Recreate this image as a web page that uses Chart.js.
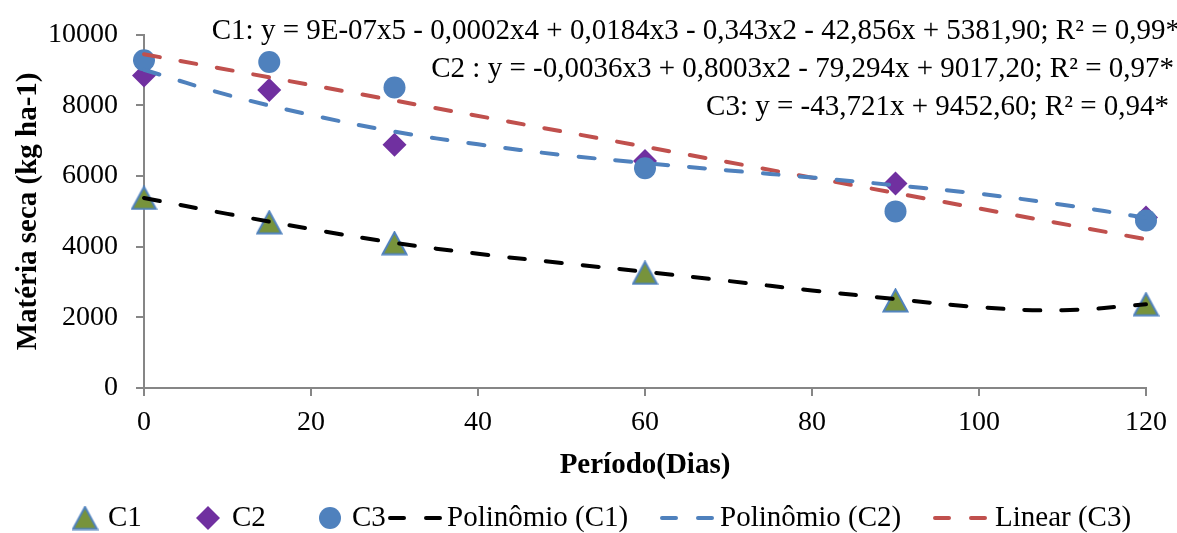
<!DOCTYPE html>
<html>
<head>
<meta charset="utf-8">
<script src="https://cdn.jsdelivr.net/npm/chart.js@4.4.1/dist/chart.umd.min.js"></script>
<style>
  html, body { margin: 0; padding: 0; background: #fff; }
  #wrap { position: relative; width: 1177px; height: 533px; }
</style>
</head>
<body>
<div id="wrap"><canvas id="chart"></canvas></div>
<script>
// sampled days and measured dry matter (kg ha-1)
const days = [0, 15, 30, 60, 90, 120];
const c1 = [5380, 4690, 4100, 3260, 2480, 2370];
const c2 = [8850, 8440, 6890, 6430, 5790, 4830];
const c3 = [9280, 9230, 8510, 6220, 5000, 4740];

// trend curves, every 10 days
const trendDays = [0, 10, 20, 30, 40, 50, 60, 70, 80, 90, 100, 110, 120];
const polyC1 = [5380, 4930, 4500, 4110, 3800, 3540, 3290, 3030, 2760, 2520, 2290, 2200, 2370];
const polyC2 = [9010, 8300, 7730, 7260, 6900, 6600, 6370, 6160, 5960, 5740, 5500, 5190, 4820];
const linDays = [0, 120];
const linC3 = [9450, 4210];

const xTicks = [0, 20, 40, 60, 80, 100, 120];
const yTicks = [0, 2000, 4000, 6000, 8000, 10000];

const equations = [
  'C1: y = 9E-07x5 - 0,0002x4 + 0,0184x3 - 0,343x2 - 42,856x + 5381,90; R² = 0,99*',
  'C2 : y = -0,0036x3 + 0,8003x2 - 79,294x + 9017,20; R² = 0,97*',
  'C3: y = -43,721x + 9452,60; R² = 0,94*'
];
const legendLabels = ['C1', 'C2', 'C3', 'Polinômio (C1)', 'Polinômio (C2)', 'Linear (C3)'];

const FONT = '"Liberation Serif", "Times New Roman", serif';
const AXIS_GRAY = '#868686';
const OLIVE = '#77933C';
const BLUE = '#4F81BD';
const PURPLE = '#7030A0';
const RED = '#C0504D';

// excel-like triangle: bounding box centred on the point
function triangleMarker(w, h) {
  const c = document.createElement('canvas');
  c.width = w; c.height = h;
  const g = c.getContext('2d');
  g.beginPath();
  g.moveTo(w / 2, 1.5);
  g.lineTo(w - 1.5, h - 1.5);
  g.lineTo(1.5, h - 1.5);
  g.closePath();
  g.fillStyle = OLIVE;
  g.fill();
  g.lineWidth = 2;
  g.strokeStyle = BLUE;
  g.stroke();
  return c;
}
const tri = triangleMarker(27, 25);

const pts = (xs, ys) => xs.map((x, i) => ({ x, y: ys[i] }));

const trend = (label, xs, ys, color) => ({
  type: 'line',
  label,
  data: pts(xs, ys),
  borderColor: color,
  borderWidth: 4,
  borderDash: [16, 21],
  borderCapStyle: 'round',
  pointRadius: 0,
  tension: 0.4,
  fill: false,
  order: 0,
  clip: false
});

// equations and legend drawn on top of the chart
const overlay = {
  id: 'overlay',
  afterDraw(chart) {
    const ctx = chart.ctx;
    ctx.save();
    ctx.fillStyle = '#000';
    ctx.font = '29px ' + FONT;
    ctx.textBaseline = 'middle';
    ctx.textAlign = 'right';
    const eqRight = [1180, 1174, 1169];
    const eqY = [31, 69, 107];
    equations.forEach((t, i) => ctx.fillText(t, eqRight[i], eqY[i]));

    // legend row
    const ly = 518;
    ctx.textAlign = 'left';
    // triangle
    ctx.drawImage(tri, 85 - tri.width / 2, ly - tri.height / 2);
    ctx.fillText(legendLabels[0], 108, ly);
    // diamond
    ctx.fillStyle = PURPLE;
    ctx.beginPath();
    ctx.moveTo(208, ly - 12); ctx.lineTo(220, ly); ctx.lineTo(208, ly + 12); ctx.lineTo(196, ly);
    ctx.closePath(); ctx.fill();
    ctx.fillStyle = '#000';
    ctx.fillText(legendLabels[1], 232, ly);
    // circle
    ctx.fillStyle = BLUE;
    ctx.beginPath(); ctx.arc(330, ly, 11, 0, Math.PI * 2); ctx.fill();
    ctx.fillStyle = '#000';
    ctx.fillText(legendLabels[2], 352, ly);
    // dashed lines
    const dashes = [[390, 440, '#000', 447, 3], [662, 712, BLUE, 720, 4], [935, 985, RED, 995, 5]];
    dashes.forEach(([x0, x1, col, tx, li]) => {
      ctx.save();
      ctx.strokeStyle = col;
      ctx.lineWidth = 4;
      ctx.lineCap = 'round';
      ctx.setLineDash([14, 22]);
      ctx.beginPath(); ctx.moveTo(x0, ly); ctx.lineTo(x1, ly); ctx.stroke();
      ctx.restore();
      ctx.fillText(legendLabels[li], tx, ly);
    });
    ctx.restore();
  }
};

const axisCommon = {
  grid: { drawOnChartArea: false, drawTicks: true, tickLength: 8, color: AXIS_GRAY, lineWidth: 2 },
  border: { color: AXIS_GRAY, width: 2 }
};

new Chart(document.getElementById('chart'), {
  type: 'scatter',
  data: {
    datasets: [
      trend('Polinômio (C1)', trendDays, polyC1, '#000'),
      trend('Polinômio (C2)', trendDays, polyC2, BLUE),
      trend('Linear (C3)', linDays, linC3, RED),
      { label: 'C3', data: pts(days, c3), pointStyle: 'circle', pointRadius: 11, backgroundColor: BLUE, borderColor: BLUE, borderWidth: 0, order: 1, clip: false },
      { label: 'C2', data: pts(days, c2), pointStyle: 'rectRot', pointRadius: 12, backgroundColor: PURPLE, borderColor: PURPLE, borderWidth: 0, order: 2, clip: false },
      { label: 'C1', data: pts(days, c1), pointStyle: tri, pointRadius: 12, order: 3, clip: false }
    ]
  },
  options: {
    responsive: true,
    maintainAspectRatio: false,
    animation: false,
    layout: { padding: { top: 23, right: 30, bottom: 0, left: 0 } },
    plugins: { legend: { display: false }, tooltip: { enabled: false } },
    scales: {
      x: {
        type: 'linear',
        min: xTicks[0],
        max: xTicks[xTicks.length - 1],
        ...axisCommon,
        ticks: { stepSize: xTicks[1] - xTicks[0], color: '#000', font: { family: FONT, size: 28 }, padding: 10, maxRotation: 0, callback: v => String(v) },
        title: { display: true, text: 'Período(Dias)', color: '#000', font: { family: FONT, size: 29, weight: 'bold' }, padding: { top: 0, bottom: 50 } },
        afterFit(scale) { scale.height = 533 - 388; }
      },
      y: {
        type: 'linear',
        min: yTicks[0],
        max: yTicks[yTicks.length - 1],
        ...axisCommon,
        ticks: { stepSize: yTicks[1] - yTicks[0], color: '#000', font: { family: FONT, size: 28 }, padding: 18, callback: v => String(v) },
        title: { display: true, text: 'Matéria seca (kg ha-1)', color: '#000', font: { family: FONT, size: 29, weight: 'bold' }, padding: { top: 11, bottom: 0 } },
        afterFit(scale) { scale.width = 144; }
      }
    }
  },
  plugins: [overlay]
});
</script>
</body>
</html>
